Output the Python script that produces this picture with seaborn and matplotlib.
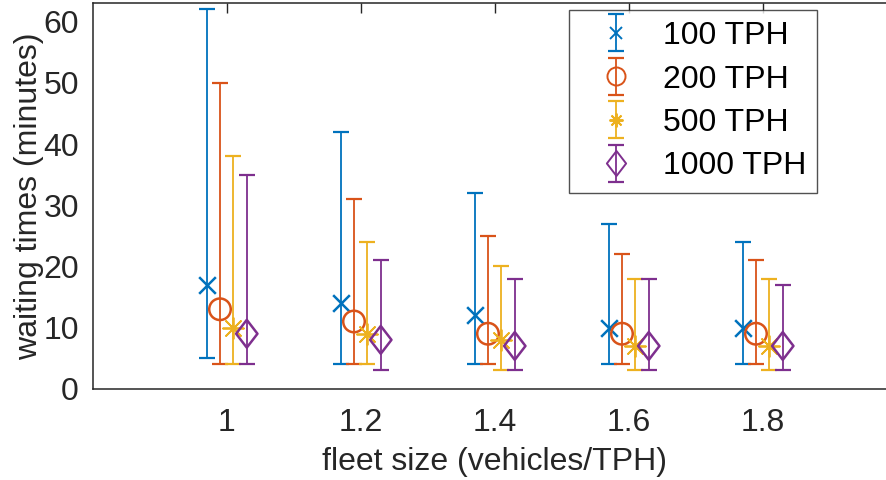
import numpy as np
import pandas as pd
import matplotlib
matplotlib.use("Agg")
import matplotlib.pyplot as plt
from matplotlib.lines import Line2D
from matplotlib.path import Path
from matplotlib.container import ErrorbarContainer
from matplotlib.legend_handler import HandlerTuple, HandlerErrorbar
import seaborn as sns

# fleet size (vehicles per TPH) and demand levels
fleet = [1.0, 1.2, 1.4, 1.6, 1.8]
demand_labels = ["100 TPH", "200 TPH", "500 TPH", "1000 TPH"]
offsets = [-0.03, -0.01, 0.01, 0.03]

# average waiting time (minutes)
mean_100 = [17, 14, 12, 10, 10]
mean_200 = [13, 11, 9, 9, 9]
mean_500 = [10, 9, 8, 7, 7]
mean_1000 = [9, 8, 7, 7, 7]

# minimum waiting time (minutes)
low_100 = [5, 4, 4, 4, 4]
low_200 = [4, 4, 4, 4, 4]
low_500 = [4, 4, 3, 3, 3]
low_1000 = [4, 3, 3, 3, 3]

# maximum waiting time (minutes)
high_100 = [62, 42, 32, 27, 24]
high_200 = [50, 31, 25, 22, 21]
high_500 = [38, 24, 20, 18, 18]
high_1000 = [35, 21, 18, 18, 17]

means = [mean_100, mean_200, mean_500, mean_1000]
lows = [low_100, low_200, low_500, low_1000]
highs = [high_100, high_200, high_500, high_1000]

colors = ["#0072BD", "#D95319", "#EDB120", "#7E2F8E"]
diamond = Path([(0, 1), (0.77, 0), (0, -1), (-0.77, 0), (0, 1)],
               [Path.MOVETO, Path.LINETO, Path.LINETO, Path.LINETO, Path.CLOSEPOLY])
markers = ["x", "o", (8, 2, 0), diamond]
msizes = [12, 15.5, 15, 20]
mwidths = [1.8, 1.8, 1.3, 1.8]
leg_msizes = [8, 13, 10, 18]
filled = [True, False, True, False]

rows = []
for lab, off, m, lo, hi in zip(demand_labels, offsets, means, lows, highs):
    for f, mv, lv, hv in zip(fleet, m, lo, hi):
        rows.append({"demand": lab, "x": f + off, "mean": mv, "low": lv, "high": hv})
df = pd.DataFrame(rows)

sns.set_theme(style="white")
plt.rcParams["font.family"] = ["Liberation Sans", "DejaVu Sans"]
FS = 23
TXT = "#262626"

fig = plt.figure(figsize=(8.87, 4.8), dpi=100)
ax = fig.add_axes([0.1045, 0.190, 0.9064, 0.803])

handles = []
for lab, col, mk, ms, mw, lms, fl in zip(demand_labels, colors, markers, msizes,
                                          mwidths, leg_msizes, filled):
    sub = df[df["demand"] == lab]
    eb = ax.errorbar(sub["x"], sub["mean"],
                     yerr=[sub["mean"] - sub["low"], sub["high"] - sub["mean"]],
                     fmt="none", ecolor=col, elinewidth=1.3, capsize=5.8, capthick=1.6)
    sns.scatterplot(data=sub, x="x", y="mean", ax=ax, marker=mk, s=ms ** 2,
                    facecolor=col if fl else "none", edgecolor=col,
                    linewidth=mw, color=col, legend=False, zorder=3)
    proxy = Line2D([], [], ls="none", marker=mk, color=col, mfc="none",
                   markersize=lms, mew=1.4)
    handles.append((eb, proxy))

ax.set_xlim(0.8, 2.0)
ax.set_ylim(0, 63)
ax.set_xticks(fleet)
ax.set_xticklabels(["1", "1.2", "1.4", "1.6", "1.8"])
ax.set_yticks([0, 10, 20, 30, 40, 50, 60])
ax.tick_params(axis="both", direction="in", length=7, width=1, labelsize=FS,
               colors=TXT, top=True, right=True, pad=10)
ax.tick_params(axis="x", pad=14)
for sp in ax.spines.values():
    sp.set_color(TXT)
    sp.set_linewidth(1.1)

ax.set_xlabel("fleet size (vehicles/TPH)", fontsize=FS, color=TXT, labelpad=6)
ax.set_ylabel("waiting times (minutes)", fontsize=FS, color=TXT, labelpad=-0.5)

leg = ax.legend(handles, demand_labels,
                handler_map={tuple: HandlerTuple(ndivide=1),
                             ErrorbarContainer: HandlerErrorbar(xerr_size=0.5, yerr_size=0.58)},
                loc="upper left", bbox_to_anchor=(0.592, 0.983), borderaxespad=0,
                fontsize=FS, frameon=True, fancybox=False, handlelength=2.25,
                handletextpad=0.35, labelspacing=0.42, borderpad=0.35)
leg.get_frame().set_edgecolor(TXT)
leg.get_frame().set_linewidth(1.0)
for t in leg.get_texts():
    t.set_color("black")

fig.savefig("out.png", dpi=100)
